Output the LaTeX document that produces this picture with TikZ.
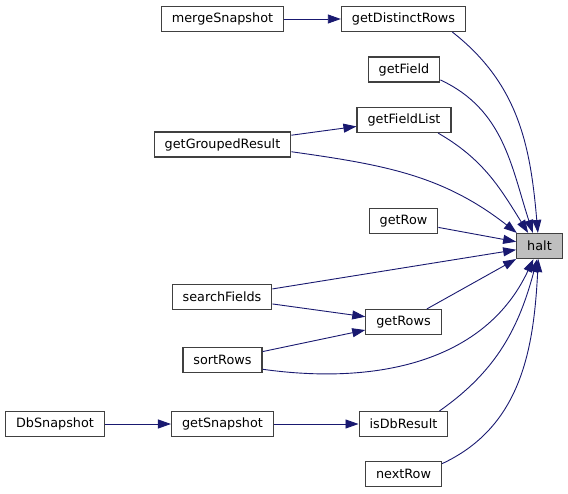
\documentclass[tikz,border=0pt]{standalone}
\usepackage{fontspec}
\setmainfont{DejaVu Sans}
\usetikzlibrary{arrows.meta}
\definecolor{edgeblue}{RGB}{25,25,112}
\definecolor{boxline}{RGB}{64,64,64}
\definecolor{rootfill}{RGB}{191,191,191}

\begin{document}
\begin{tikzpicture}[x=1pt,y=1pt, every node/.style={font=\fontsize{12.8}{15}\selectfont},
  fn/.style={draw=boxline,line width=1.2pt,fill=white,minimum height=25pt,
  inner xsep=10.5pt,inner ysep=0pt}, root/.style={fn,fill=rootfill},
  edge/.style={-{Triangle[length=13pt,width=9pt]},draw=edgeblue,line width=0.9pt}]
  \useasboundingbox (0,0) rectangle (568,-493);
  % callee
  \node[root] (halt) at (539.5,-246) {halt};
  % direct callers
  \node[fn] (distinct) at (403.5,-19) {getDistinctRows}; \node[fn] (field) at
  (404,-69.5) {getField}; \node[fn] (fieldlist) at (404,-120) {getFieldList};
  \node[fn] (row) at (403.5,-221) {getRow}; \node[fn] (rows) at (403.5,-322)
  {getRows}; \node[fn] (isdb) at (403.5,-424) {isDbResult}; \node[fn] (next) at
  (403.5,-474) {nextRow};
  % second level
  \node[fn] (merge) at (222.5,-19) {mergeSnapshot}; \node[fn] (grouped) at
  (222.5,-144.5) {getGroupedResult}; \node[fn] (search) at (222,-297)
  {searchFields}; \node[fn] (sort) at (222.5,-360) {sortRows}; \node[fn] (snap)
  at (222.5,-424) {getSnapshot}; \node[fn] (dbsnap) at (55,-424) {DbSnapshot};
  % calls into halt
  \draw[edge] (distinct.-15) to[out=-38,in=95] (halt.97); \draw[edge]
  (field.-16) to[out=-25,in=108] (halt.117); \draw[edge] (fieldlist.-21)
  to[out=-30,in=122] (halt.131); \draw[edge] (grouped.-6) to[out=-8,in=142]
  (halt.150); \draw[edge] (row) -- (halt); \draw[edge] (search) -- (halt);
  \draw[edge] (rows) -- (halt); \draw[edge] (sort.-13) to[out=-8,in=-115]
  (halt.-115); \draw[edge] (isdb.20) to[out=35,in=-105] (halt.-100);
  \draw[edge] (next.15) to[out=25,in=-93] (halt.-95);
  % other calls
  \draw[edge] (merge) -- (distinct); \draw[edge] (grouped) -- (fieldlist);
  \draw[edge] (search) -- (rows); \draw[edge] (sort) -- (rows); \draw[edge]
  (dbsnap) -- (snap); \draw[edge] (snap) -- (isdb);
\end{tikzpicture}
\end{document}
